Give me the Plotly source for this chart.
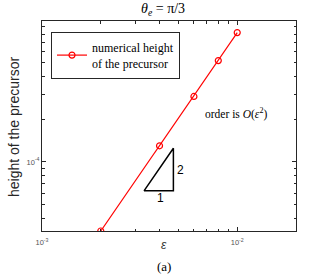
import plotly.graph_objects as go
import numpy as np

# ---- data ----
eps = [0.002, 0.004, 0.006, 0.008, 0.01]
height = [3.25e-5, 1.3e-4, 2.9e-4, 5.2e-4, 8.2e-4]
series_name = "numerical height<br>of the precursor"

# slope triangle corners
tri_x = [0.00333, 0.00471, 0.00471, 0.00333]
tri_y = [6.25e-5, 6.25e-5, 1.25e-4, 6.25e-5]

x_major = [1e-3, 1e-2]
x_major_text = ["10<sup>-3</sup>", "10<sup>-2</sup>"]
y_major = [1e-4]
y_major_text = ["10<sup>-4</sup>"]

x_minor = [m * 10.0**e for e in (-3, -2) for m in range(2, 10)]
y_minor = [m * 10.0**e for e in (-5, -4) for m in range(2, 10)]

W, H = 327, 277
L, R, T, B = 42, 296, 21, 231

def px(x):
    return (x - L) / (R - L)

def py(y):
    return (B - y) / (B - T)

fig = go.Figure()
fig.add_trace(go.Scatter(
    x=eps, y=height, mode="lines+markers", name=series_name,
    line=dict(color="#ff0000", width=1.2),
    marker=dict(symbol="circle-open", size=6, color="#ff0000", line=dict(width=1.2)),
))
fig.add_trace(go.Scatter(
    x=tri_x, y=tri_y, mode="lines", showlegend=False,
    line=dict(color="black", width=1.5),
))

axis_common = dict(
    type="log", showgrid=False, zeroline=False,
    showline=True, linecolor="#262626", linewidth=1, mirror="ticks",
    ticks="inside", ticklen=4, tickcolor="#262626", tickwidth=1,
    tickfont=dict(family="Liberation Sans", size=7.5, color="#555555"),
)

fig.update_xaxes(
    **axis_common,
    range=[np.log10(1e-3), np.log10(2e-2)],
    tickmode="array", tickvals=x_major, ticktext=x_major_text,
    ticklabelstandoff=4,
    minor=dict(ticks="inside", ticklen=2.5, tickcolor="#262626", tickvals=x_minor),
)
fig.update_yaxes(
    **axis_common,
    range=[np.log10(3.25e-5), np.log10(9.9e-4)],
    tickmode="array", tickvals=y_major, ticktext=y_major_text,
    minor=dict(ticks="inside", ticklen=2.5, tickcolor="#262626", tickvals=y_minor),
)

serif = "Liberation Serif"

def label(text, x, y, font, angle=0):
    return dict(text=text, x=px(x), y=py(y), xref="paper", yref="paper",
                xanchor="center", yanchor="middle", showarrow=False,
                textangle=angle, font=font)

fig.update_layout(
    width=W, height=H,
    margin=dict(l=L, r=W - R, t=T, b=H - B, pad=0),
    paper_bgcolor="white", plot_bgcolor="white",
    showlegend=True,
    legend=dict(
        x=px(51), y=py(32), xanchor="left", yanchor="top",
        bgcolor="white", bordercolor="#262626", borderwidth=1,
        font=dict(family=serif, size=12, color="black"),
        itemwidth=30, tracegroupgap=0,
    ),
    annotations=[
        label("<i>θ<sub>e</sub></i> = π/3", 163, 10, dict(family=serif, size=14, color="black")),
        label("order is <i>O</i>(<i>ε</i><sup>2</sup>)", 236, 113, dict(family=serif, size=11.5, color="black")),
        label("1", 160, 198, dict(family="Liberation Sans", size=12, color="black")),
        label("2", 180, 170, dict(family="Liberation Sans", size=12, color="black")),
        label("height of the precursor", 14, 127, dict(family="Liberation Sans", size=14, color="#262626"), -90),
        label("<i>ε</i>", 164, 245, dict(family="Liberation Sans", size=12, color="#333333")),
        label("(a)", 164, 266, dict(family=serif, size=13, color="black")),
    ],
)

fig.write_html("out.html", config={"displayModeBar": False},
               post_script="document.body.style.margin='0';document.body.style.padding='0';")
